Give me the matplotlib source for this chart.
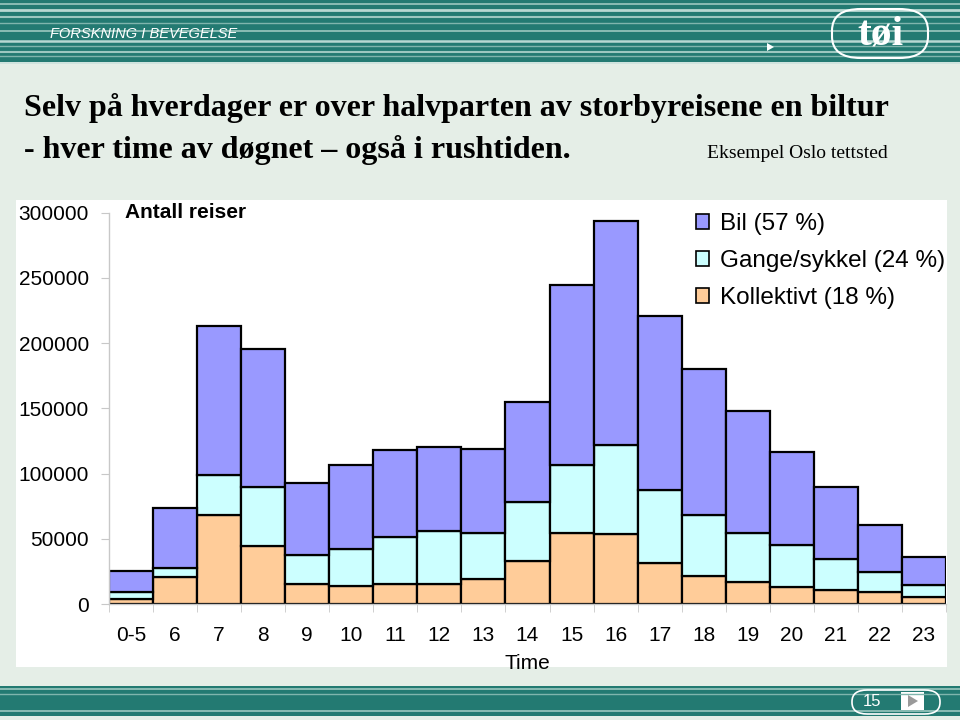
import matplotlib
matplotlib.use('Agg')
import matplotlib.pyplot as plt
from matplotlib.patches import Rectangle, FancyBboxPatch, Patch, Polygon
from matplotlib.lines import Line2D

# ---------------- data ----------------
hours = ['0-5', '6', '7', '8', '9', '10', '11', '12', '13', '14', '15',
         '16', '17', '18', '19', '20', '21', '22', '23']
kollektivt = [4000, 21000, 68500, 44600, 15600, 13600, 15600, 15600, 19500, 33100,
              54600, 53300, 31800, 21800, 16900, 13100, 10500, 9200, 5600]
gange_sykkel = [5400, 6500, 30500, 45100, 21600, 28400, 35400, 40700, 35100, 45400,
                52300, 68700, 55300, 46700, 37700, 32500, 23900, 15200, 8800]
bil = [16100, 46100, 114300, 105700, 55300, 64400, 66700, 63700, 64100, 76500,
       137700, 171600, 133400, 111700, 93100, 70800, 55300, 36400, 21500]
legend_labels = ['Bil (57 %)', 'Gange/sykkel (24 %)', 'Kollektivt (18 %)']
y_ticks = [0, 50000, 100000, 150000, 200000, 250000, 300000]

title_line1 = 'Selv på hverdager er over halvparten av storbyreisene en biltur'
title_line2 = '- hver time av døgnet – også i rushtiden.'
subtitle = 'Eksempel Oslo tettsted'

# ---------------- styling ----------------
C_BIL = '#9999FF'
C_GANGE = '#CCFFFF'
C_KOLL = '#FFCC99'
TEAL = '#237A72'
BG = '#E5EEE7'
SANS = ['Liberation Sans', 'DejaVu Sans']
SERIF = ['Liberation Serif', 'DejaVu Serif']

W, H = 960, 720
fig = plt.figure(figsize=(9.6, 7.2), dpi=100)
fig.patch.set_facecolor(BG)


def fx(x):
    return x / W


def fy(y):
    return 1 - y / H


def rect(x0, y0, x1, y1, color, **kw):
    fig.patches.append(Rectangle((fx(x0), fy(y1)), (x1 - x0) / W, (y1 - y0) / H,
                                 transform=fig.transFigure, facecolor=color,
                                 edgecolor='none', zorder=-5, **kw))


def hline(y, x0, x1, color, lw):
    fig.lines.append(Line2D([fx(x0), fx(x1)], [fy(y), fy(y)], transform=fig.transFigure,
                            color=color, lw=lw, zorder=-4))


# header banner
rect(0, 0, 960, 62, TEAL)
for y, lw, c in [(4, 1.2, '#9CC7C0'), (10, 2.0, '#B8D8D2'), (17, 1.5, '#9CC7C0'),
                 (23, 1.0, '#7FB5AD'), (31, 1.2, '#9CC7C0'), (41, 1.8, '#B8D8D2'),
                 (46, 1.0, '#7FB5AD'), (52, 1.5, '#9CC7C0'), (56, 1.0, '#7FB5AD')]:
    hline(y, 0, 960, c, lw)
rect(0, 62, 960, 64, '#CFE3DE')
fig.text(fx(50), fy(34), 'FORSKNING I BEVEGELSE', color='white', fontsize=10.5,
         style='italic', family=SANS, ha='left', va='center')
fig.patches.append(Polygon([[fx(767), fy(43)], [fx(767), fy(51)], [fx(774), fy(47)]],
                           closed=True, transform=fig.transFigure, facecolor='white',
                           edgecolor='none', zorder=-3))
fig.patches.append(FancyBboxPatch((fx(832), fy(58)), (928 - 832) / W, (58 - 9) / H,
                                  boxstyle='round,pad=0,rounding_size=0.03',
                                  transform=fig.transFigure, facecolor='none',
                                  edgecolor='white', lw=1.5, zorder=-3))
fig.text(fx(880), fy(35), 'tøi', color='white', fontsize=30, weight='bold',
         family=SERIF, ha='center', va='center')

# white chart panel
rect(16, 200, 947, 667, 'white')

# footer
rect(0, 686, 960, 716, TEAL)
for y, lw, c in [(689, 1.2, '#9CC7C0'), (694, 1.0, '#7FB5AD'), (711, 1.2, '#9CC7C0')]:
    hline(y, 0, 960, c, lw)
fig.patches.append(FancyBboxPatch((fx(852), fy(714)), (940 - 852) / W, (714 - 690) / H,
                                  boxstyle='round,pad=0,rounding_size=0.016',
                                  transform=fig.transFigure, facecolor='none',
                                  edgecolor='white', lw=1.2, zorder=-3))
fig.text(fx(872), fy(701), '15', color='white', fontsize=12, family=SANS,
         ha='center', va='center')
rect(901, 692, 924, 710, 'white')
fig.patches.append(Polygon([[fx(908), fy(695)], [fx(908), fy(707)], [fx(918), fy(701)]],
                           closed=True, transform=fig.transFigure, facecolor='#9A9A9A',
                           edgecolor='none', zorder=-2))

# titles
fig.text(fx(24), fy(108), title_line1, fontsize=23, weight='bold', family=SERIF,
         ha='left', va='center')
fig.text(fx(24), fy(150), title_line2, fontsize=23, weight='bold', family=SERIF,
         ha='left', va='center')
fig.text(fx(888), fy(153), subtitle, fontsize=14, family=SERIF, ha='right', va='center')

# ---------------- chart ----------------
ax = fig.add_axes([fx(109), fy(604), (946 - 109) / W, (604 - 212.7) / H])
ax.set_zorder(2)
ax.set_facecolor('white')
x = list(range(len(hours)))
bottom2 = [k + g for k, g in zip(kollektivt, gange_sykkel)]
ax.bar(x, kollektivt, width=1.0, color=C_KOLL, edgecolor='black', lw=1.6)
ax.bar(x, gange_sykkel, bottom=kollektivt, width=1.0, color=C_GANGE, edgecolor='black', lw=1.6)
ax.bar(x, bil, bottom=bottom2, width=1.0, color=C_BIL, edgecolor='black', lw=1.6)

ax.set_xlim(-0.5, len(hours) - 0.5)
ax.set_ylim(0, 300000)
for s in ['top', 'right']:
    ax.spines[s].set_visible(False)
for s in ['left', 'bottom']:
    ax.spines[s].set_color('#C8C8C8')
    ax.spines[s].set_linewidth(1.0)

ax.set_yticks(y_ticks)
ax.set_yticklabels([str(v) for v in y_ticks], family=SANS, fontsize=15)
ax.tick_params(axis='y', direction='out', length=6, color='#C8C8C8', pad=8.5)

ax.set_xticks(x)
ax.set_xticklabels(hours, family=SANS, fontsize=15)
ax.set_xticks([i - 0.5 for i in range(len(hours) + 1)], minor=True)
ax.tick_params(axis='x', which='major', length=0, pad=16)
ax.tick_params(axis='x', which='minor', direction='out', length=6, color='#C8C8C8')
ax.set_xlabel('Time', family=SANS, fontsize=15, labelpad=6)

fig.text(fx(125), fy(212), 'Antall reiser', fontsize=15, weight='bold', family=SANS,
         ha='left', va='center', zorder=5)

handles = [Patch(facecolor=C_BIL, edgecolor='black', lw=1.2),
           Patch(facecolor=C_GANGE, edgecolor='black', lw=1.2),
           Patch(facecolor=C_KOLL, edgecolor='black', lw=1.2)]
leg = fig.legend(handles, legend_labels, loc='upper left', bbox_to_anchor=(fx(696), fy(213)),
                 frameon=False, prop={'family': SANS, 'size': 17.5}, handlelength=0.55,
                 handleheight=0.55, handletextpad=0.45, labelspacing=0.62, borderpad=0,
                 borderaxespad=0)
leg.set_zorder(5)

fig.savefig('out.png', dpi=100, facecolor=fig.get_facecolor())
